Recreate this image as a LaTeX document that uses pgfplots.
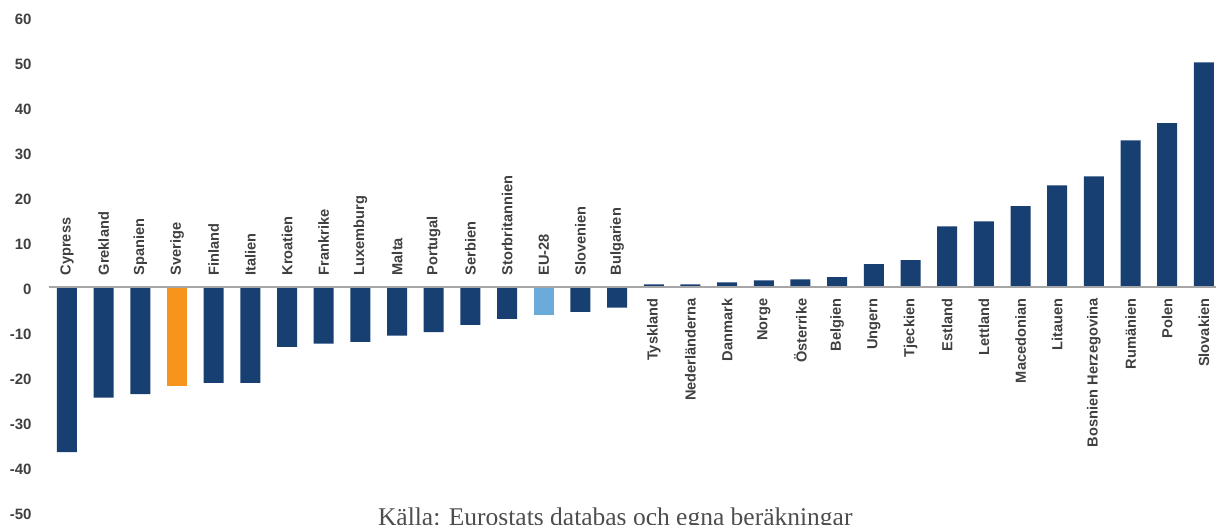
\documentclass[border=0pt]{standalone}
\usepackage{fontspec}
\setmainfont{Liberation Sans}
\newfontfamily\srcfont{Liberation Serif}
\usepackage{pgfplots}
\pgfplotsset{compat=1.18}
\definecolor{barblue}{HTML}{183F72}
\definecolor{barorange}{HTML}{F7941D}
\definecolor{barlight}{HTML}{6AABDC}
\definecolor{txt}{HTML}{404040}
\definecolor{srct}{HTML}{4D4D4D}
\definecolor{zl}{HTML}{A6A6A6}
\begin{document}
\begin{tikzpicture}
\begin{axis}[
  name=ax,
  scale only axis,
  width=1167.3pt, height=495pt,
  xmin=-0.5, xmax=31.33,
  ymin=-50, ymax=60,
  axis line style={draw=none},
  xtick=\empty,
  ytick={-50,-40,...,60},
  major tick length=0pt,
  /pgf/number format/assume math mode=true,
  yticklabel style={font=\fontsize{15}{18}\selectfont\bfseries, text=txt, anchor=east, inner sep=0pt, xshift=-17pt, yshift=-2pt},
  clip=false,
]
\addplot[ybar, bar width=20pt, bar shift=0pt, fill=barblue, draw=none] coordinates {
(0,-36.7) (1,-24.6) (2,-23.8) (4,-21.3) (5,-21.3) (6,-13.3) (7,-12.6) (8,-12.2)
(9,-10.8) (10,-10.0) (11,-8.4) (12,-7.1) (14,-5.5) (15,-4.6)
(16,0.6) (17,0.6) (18,1.05) (19,1.5) (20,1.7) (21,2.2) (22,5.1) (23,6.0)
(24,13.5) (25,14.6) (26,18.0) (27,22.6) (28,24.6) (29,32.6) (30,36.4) (31,49.9)
};
\addplot[ybar, bar width=20pt, bar shift=0pt, fill=barorange, draw=none] coordinates {(3,-22.0)};
\addplot[ybar, bar width=20pt, bar shift=0pt, fill=barlight, draw=none] coordinates {(13,-6.2)};
\draw[zl, line width=2pt] (axis cs:-0.5,0) -- (axis cs:31.33,0);
\addplot[draw=none, mark=none, point meta=explicit symbolic, nodes near coords,
  nodes near coords style={font=\fontsize{14.6}{18}\selectfont\bfseries, text=txt, inner sep=0pt, yshift=11.5pt, rotate=90, anchor=west}]
coordinates {
(0,0)[Cypress] (1,0)[Grekland] (2,0)[Spanien] (3,0)[Sverige] (4,0)[Finland] (5,0)[Italien]
(6,0)[Kroatien] (7,0)[Frankrike] (8,0)[Luxemburg] (9,0)[Malta] (10,0)[Portugal]
(11,0)[Serbien] (12,0)[Storbritannien] (13,0)[EU-28] (14,0)[Slovenien] (15,0)[Bulgarien]
};
\addplot[draw=none, mark=none, point meta=explicit symbolic, nodes near coords,
  nodes near coords style={font=\fontsize{14.6}{18}\selectfont\bfseries, text=txt, inner sep=0pt, yshift=-11.5pt, rotate=90, anchor=east}]
coordinates {
(16,0)[Tyskland] (17,0)[Nederländerna] (18,0)[Danmark] (19,0)[Norge] (20,0)[Österrike]
(21,0)[Belgien] (22,0)[Ungern] (23,0)[Tjeckien] (24,0)[Estland] (25,0)[Lettland]
(26,0)[Macedonian] (27,0)[Litauen] (28,0)[Bosnien Herzegovina] (29,0)[Rumänien]
(30,0)[Polen] (31,0)[Slovakien]
};
\node[anchor=base, inner sep=0pt, font=\srcfont\fontsize{25.5}{30}\selectfont, text=srct] at (axis cs:14.95,-52.9) {Källa: Eurostats databas och egna beräkningar};
\end{axis}
\pgfresetboundingbox
\useasboundingbox ([xshift=-48.66pt,yshift=-12pt]ax.south west) rectangle ([yshift=17pt]ax.north east);
\end{tikzpicture}
\end{document}
